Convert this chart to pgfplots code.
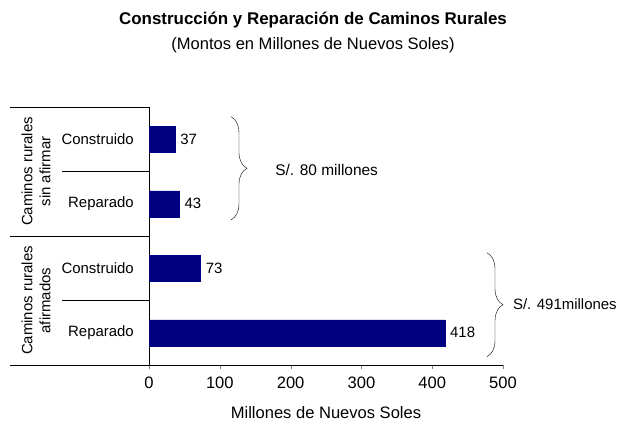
\documentclass[border=0pt]{standalone}
\usepackage{fontspec}
\setmainfont{Liberation Sans}
\usepackage{pgfplots}
\pgfplotsset{compat=1.18}
\usetikzlibrary{decorations.pathreplacing}
\definecolor{navybar}{RGB}{0,0,128}
\begin{document}
\fontsize{15}{18}\selectfont
\begin{tikzpicture}[x=1bp,y=1bp]
\path[use as bounding box] (0,0) rectangle (618,-423);
\node[font=\fontsize{17}{20}\selectfont\bfseries] at (313,-20) {Construcción y Reparación de Caminos Rurales};
\node[font=\fontsize{16.6}{20}\selectfont] at (313,-45) {(Montos en Millones de Nuevos Soles)};
\begin{axis}[
  at={(149bp,-365bp)}, anchor=south west,
  width=354bp, height=258bp, scale only axis,
  xbar, bar width=26bp,
  xmin=0, xmax=500, xtick={0,100,...,500},
  ymin=-0.5, ymax=3.5, y dir=reverse,
  ytick={0,1,2,3}, yticklabels={Construido,Reparado,Construido,Reparado},
  axis x line=bottom, axis y line=left, axis line style={-},
  tick align=outside, major tick length=4bp,
  ytick style={draw=none},
  y tick label style={inner sep=0pt, xshift=-11bp},
  x tick label style={font=\fontsize{16.6}{20}\selectfont, yshift=-3bp},
  xlabel={Millones de Nuevos Soles},
  xlabel style={font=\fontsize{16.6}{20}\selectfont, yshift=-7bp},
  nodes near coords,
  every node near coord/.append style={black},
  clip=false,
  /pgf/number format/assume math mode=true,
]
\addplot[fill=navybar, draw=navybar] coordinates {(37,0) (43,1) (73,2) (418,3)};
% group separator lines
\draw ([xshift=-139bp]axis cs:0,-0.5) -- (axis cs:0,-0.5);
\draw ([xshift=-139bp]axis cs:0,1.5) -- (axis cs:0,1.5);
\draw ([xshift=-139bp]axis cs:0,3.5) -- (axis cs:0,3.5);
\draw ([xshift=-87bp]axis cs:0,0.5) -- (axis cs:0,0.5);
\draw ([xshift=-87bp]axis cs:0,2.5) -- (axis cs:0,2.5);
\node[rotate=90, align=center] at ([xshift=-113bp]axis cs:0,0.5) {Caminos rurales\\sin afirmar};
\node[rotate=90, align=center] at ([xshift=-113bp]axis cs:0,2.5) {Caminos rurales\\afirmados};
% braces
\draw[decorate, decoration={brace, amplitude=16bp}] (axis cs:115.8,-0.35) -- (axis cs:115.8,1.25);
\draw[decorate, decoration={brace, amplitude=16bp}] (axis cs:477.4,1.76) -- (axis cs:477.4,3.37);
\node[anchor=west, font=\fontsize{15.5}{18}\selectfont] at (axis cs:171,0.477) {S/. 80 millones};
\node[anchor=west, inner sep=0pt] at (axis cs:514,2.554) {S/. 491millones};
\end{axis}
\end{tikzpicture}
\end{document}
